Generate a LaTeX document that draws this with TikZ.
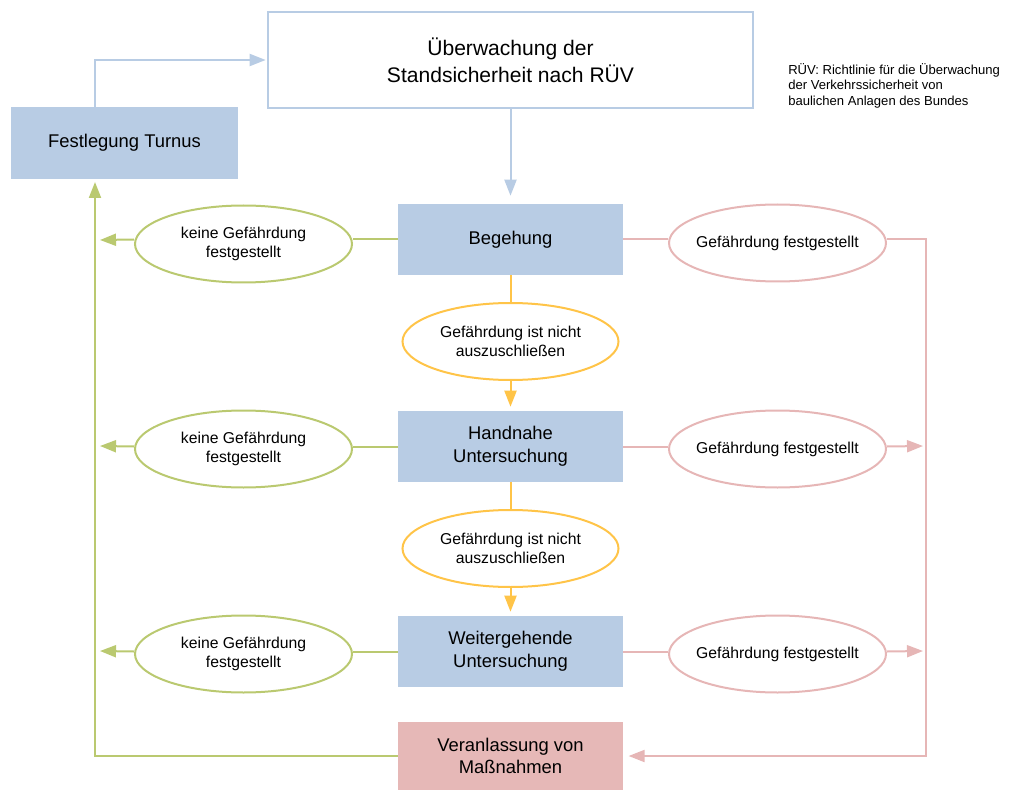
\documentclass[tikz,border=0pt]{standalone}
\usepackage{fontspec}
\setmainfont{Liberation Sans}
\usetikzlibrary{shapes.geometric,arrows.meta}
\definecolor{bluefill}{RGB}{184,204,228}
\definecolor{blueline}{RGB}{184,204,228}
\definecolor{redfill}{RGB}{230,184,183}
\definecolor{redline}{RGB}{230,182,182}
\definecolor{greenline}{RGB}{186,201,112}
\definecolor{orangeline}{RGB}{255,196,72}
\tikzset{
  box/.style={rectangle, fill=bluefill, minimum width=168.75pt, minimum height=53.25pt, inner sep=0pt, align=center, font=\fontsize{13.8}{17}\selectfont},
  oval/.style={ellipse, draw, line width=1.5pt, fill=white, minimum width=162.75pt, minimum height=57.75pt, inner sep=0pt, align=center, font=\fontsize{11.8}{14}\selectfont},
  tip/.style={-{Triangle[length=12pt,width=9pt]}},
  bl/.style={draw=blueline, line width=1.5pt},
  gl/.style={draw=greenline, line width=1.5pt},
  rl/.style={draw=redline, line width=1.5pt},
  ol/.style={draw=orangeline, line width=1.5pt},
}
\begin{document}
\begin{tikzpicture}[x=0.75pt,y=-0.75pt]
\useasboundingbox (0,0) rectangle (1009,791);
% main nodes
\node[rectangle, draw=blueline, line width=1.5pt, fill=white, minimum width=363.75pt, minimum height=72pt, align=center, font=\fontsize{15.8}{20.5}\selectfont] (top) at (510.5,60) {Überwachung der\\Standsicherheit nach RÜV};
\node[box, minimum width=170.25pt, minimum height=54pt] (fest) at (124.5,143) {Festlegung Turnus};
\node[box] (beg) at (510.5,239.5) {Begehung};
\node[box] (hand) at (510.5,446.5) {Handnahe\\Untersuchung};
\node[box] (weit) at (510.5,651.5) {Weitergehende\\Untersuchung};
\node[box, fill=redfill, minimum height=51pt] (ver) at (510.5,756) {Veranlassung von\\Maßnahmen};
% note
\node[anchor=north west, align=left, inner sep=0pt, font=\fontsize{9.8}{11.6}\selectfont] (note) at (788,63) {RÜV: Richtlinie für die Überwachung\\der Verkehrssicherheit von\\baulichen Anlagen des Bundes};
% ellipses
\node[oval, draw=greenline] (g1) at (243.5,244) {keine Gefährdung\\festgestellt};
\node[oval, draw=greenline] (g2) at (243.5,449) {keine Gefährdung\\festgestellt};
\node[oval, draw=greenline] (g3) at (243.5,654) {keine Gefährdung\\festgestellt};
\node[oval, draw=redline] (r1) at (777.5,243) {\makebox[0pt]{Gefährdung festgestellt}};
\node[oval, draw=redline] (r2) at (777.5,449) {\makebox[0pt]{Gefährdung festgestellt}};
\node[oval, draw=redline] (r3) at (777.5,654) {\makebox[0pt]{Gefährdung festgestellt}};
\node[oval, draw=orangeline, minimum width=162pt] (o1) at (510.5,341.5) {Gefährdung ist nicht\\auszuschließen};
\node[oval, draw=orangeline, minimum width=162pt] (o2) at (510.5,548.5) {Gefährdung ist nicht\\auszuschließen};
% coordinates
\coordinate (gx1) at (100,240);
\coordinate (gx2) at (100,446);
\coordinate (gx3) at (100,651);
\coordinate (gtop) at (95,182);
\coordinate (rx2) at (923,446);
\coordinate (rx3) at (923,651);
\coordinate (rcorner) at (926,756);
\coordinate (bcorner) at (95,60);
% blue connectors
\draw[bl, tip] (fest.north -| bcorner) -- (bcorner) -- ([xshift=-1pt]top.west);
\draw[bl, tip, shorten >=6pt] (top.south) -- (beg.north);
% orange connectors
\draw[ol] (beg.south) -- (o1.north);
\draw[ol, tip, shorten >=3pt] (o1.south) -- (hand.north);
\draw[ol] (hand.south) -- (o2.north);
\draw[ol, tip, shorten >=3pt] (o2.south) -- (weit.north);
% green connectors
\draw[gl] (beg.west) -- (beg.west -| g1.east);
\draw[gl, tip] (beg.west -| g1.west) -- (gx1);
\draw[gl] (hand.west) -- (hand.west -| g2.east);
\draw[gl, tip] (hand.west -| g2.west) -- (gx2);
\draw[gl] (weit.west) -- (weit.west -| g3.east);
\draw[gl, tip] (weit.west -| g3.west) -- (gx3);
\draw[gl, tip] (ver.west) -| (gtop);
% red connectors
\draw[rl] (beg.east) -- (beg.east -| r1.west);
\draw[rl] (hand.east) -- (hand.east -| r2.west);
\draw[rl] (weit.east) -- (weit.east -| r3.west);
\draw[rl, tip, shorten >=4pt] (beg.east -| r1.east) -| (rcorner) -- (ver.east);
\draw[rl, tip] (hand.east -| r2.east) -- (rx2);
\draw[rl, tip] (weit.east -| r3.east) -- (rx3);
\end{tikzpicture}
\end{document}
